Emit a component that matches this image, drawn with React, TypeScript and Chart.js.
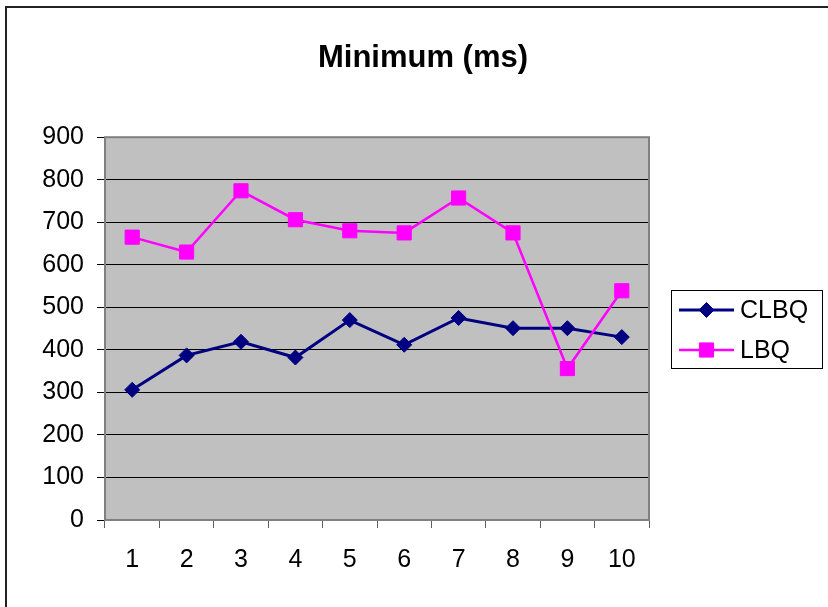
import React, { useEffect, useRef } from 'react';
import { Chart, registerables, layouts } from 'chart.js';
import { drawPoint } from 'chart.js/helpers';

Chart.register(...registerables);

// ---- data ----
const TITLE = 'Minimum (ms)';
const categories = ['1', '2', '3', '4', '5', '6', '7', '8', '9', '10'];
const seriesLabels = ['CLBQ', 'LBQ'];
const clbqValues = [306, 387, 419, 382, 470, 412, 475, 451, 451, 430];
const lbqValues = [665, 630, 774, 706, 680, 675, 757, 675, 356, 539];
const yMin = 0;
const yMax = 900;
const yStep = 100;

// ---- style ----
const FONT = '"Liberation Sans", Arial, Helvetica, sans-serif';
const W = 828;
const H = 607;
const LEGEND_AREA_WIDTH = 192;

function createLegendBox(chart: any) {
  const box: any = {
    position: 'right',
    weight: 0,
    fullSize: false,
    options: { stackWeight: 1 },
    left: 0,
    top: 0,
    right: 0,
    bottom: 0,
    width: 0,
    height: 0,
    isHorizontal: () => false,
    update(maxWidth: number, maxHeight: number) {
      box.width = LEGEND_AREA_WIDTH;
      box.height = maxHeight;
    },
    getPadding: () => ({ left: 0, top: 0, right: 0, bottom: 0 }),
    draw() {
      const ctx = chart.ctx as CanvasRenderingContext2D;
      const area = chart.chartArea;
      const bw = 151;
      const bh = 78;
      const bx = Math.round(box.left + 22);
      const by = Math.round((area.top + area.bottom) / 2 - bh / 2);
      ctx.save();
      ctx.fillStyle = '#ffffff';
      ctx.fillRect(bx, by, bw, bh);
      ctx.strokeStyle = '#000000';
      ctx.lineWidth = 1;
      ctx.strokeRect(bx + 0.5, by + 0.5, bw, bh);
      chart.data.datasets.forEach((ds: any, i: number) => {
        const y = by + 20 + i * 40;
        const x0 = bx + 8;
        const x1 = bx + 63;
        ctx.strokeStyle = ds.borderColor;
        ctx.lineWidth = ds.borderWidth;
        ctx.beginPath();
        ctx.moveTo(x0, y);
        ctx.lineTo(x1, y);
        ctx.stroke();
        ctx.fillStyle = ds.pointBackgroundColor;
        ctx.strokeStyle = ds.pointBorderColor;
        ctx.lineWidth = ds.pointBorderWidth;
        drawPoint(
          ctx,
          { pointStyle: ds.pointStyle, radius: ds.pointRadius, rotation: 0, borderWidth: ds.pointBorderWidth } as any,
          (x0 + x1) / 2,
          y
        );
        ctx.fillStyle = '#000000';
        ctx.font = `25px ${FONT}`;
        ctx.textAlign = 'left';
        ctx.textBaseline = 'middle';
        ctx.fillText(ds.label, bx + 69, y + 1);
      });
      ctx.restore();
    },
  };
  return box;
}

const legendBoxPlugin = {
  id: 'excelLegendBox',
  beforeInit(chart: any) {
    layouts.addBox(chart, createLegendBox(chart));
  },
};

const framePlugin = {
  id: 'excelFrame',
  beforeDraw(chart: any) {
    const { ctx, chartArea: a, width, height } = chart;
    ctx.save();
    ctx.fillStyle = '#ffffff';
    ctx.fillRect(0, 0, width, height);
    ctx.strokeStyle = '#222222';
    ctx.lineWidth = 2;
    ctx.beginPath();
    ctx.moveTo(6, height + 4);
    ctx.lineTo(6, 7);
    ctx.lineTo(width + 4, 7);
    ctx.stroke();
    ctx.fillStyle = '#C0C0C0';
    ctx.fillRect(a.left, a.top, a.right - a.left, a.bottom - a.top);
    ctx.restore();
  },
  beforeDatasetsDraw(chart: any) {
    const { ctx, chartArea: a } = chart;
    ctx.save();
    ctx.strokeStyle = '#808080';
    ctx.lineWidth = 2;
    ctx.strokeRect(a.left, a.top, a.right - a.left, a.bottom - a.top);
    ctx.restore();
  },
};

export default function App() {
  const canvasRef = useRef<HTMLCanvasElement | null>(null);

  useEffect(() => {
    if (!canvasRef.current) return;
    const chart = new Chart(canvasRef.current, {
      type: 'line',
      data: {
        labels: categories,
        datasets: [
          {
            label: seriesLabels[0],
            data: clbqValues,
            borderColor: '#000080',
            backgroundColor: '#000080',
            borderWidth: 3,
            pointStyle: 'rectRot',
            pointRadius: 7.5,
            pointBorderWidth: 1,
            pointBackgroundColor: '#000080',
            pointBorderColor: '#000080',
            tension: 0,
            order: 1,
          },
          {
            label: seriesLabels[1],
            data: lbqValues,
            borderColor: '#FF00FF',
            backgroundColor: '#FF00FF',
            borderWidth: 2.5,
            pointStyle: 'rect',
            pointRadius: 10,
            pointBorderWidth: 1,
            pointBackgroundColor: '#FF00FF',
            pointBorderColor: '#FF00FF',
            tension: 0,
            order: 0,
          },
        ],
      },
      options: {
        animation: false,
        responsive: false,
        events: [],
        layout: { padding: { left: 5, top: 7, right: -13, bottom: 0 } },
        plugins: {
          legend: { display: false },
          tooltip: { enabled: false },
          title: {
            display: true,
            text: TITLE,
            color: '#000000',
            font: { family: FONT, size: 31, weight: 'bold' },
            padding: { top: 33, bottom: 60 },
          },
        },
        scales: {
          x: {
            type: 'category',
            offset: true,
            ticks: {
              color: '#000000',
              font: { family: FONT, size: 25 },
              padding: 17,
              maxRotation: 0,
              autoSkip: false,
            },
            grid: {
              offset: true,
              drawOnChartArea: false,
              drawTicks: true,
              tickLength: 8,
              tickColor: '#606060',
              color: '#606060',
              lineWidth: 1,
            },
            border: { display: false },
            afterFit: (s: any) => {
              s.height = 87;
            },
          },
          y: {
            min: yMin,
            max: yMax,
            ticks: {
              stepSize: yStep,
              color: '#000000',
              font: { family: FONT, size: 25 },
              padding: 13,
            },
            grid: {
              color: '#000000',
              lineWidth: 1,
              drawTicks: true,
              tickLength: 8,
              tickColor: '#000000',
            },
            border: { display: false },
            afterFit: (s: any) => {
              s.width = 100;
            },
          },
        },
      } as any,
      plugins: [framePlugin, legendBoxPlugin],
    });
    return () => chart.destroy();
  }, []);

  return (
    <div style={{ position: 'absolute', left: 0, top: 0, width: W, height: H }}>
      <canvas ref={canvasRef} width={W} height={H} style={{ width: W, height: H, display: 'block' }} />
    </div>
  );
}
